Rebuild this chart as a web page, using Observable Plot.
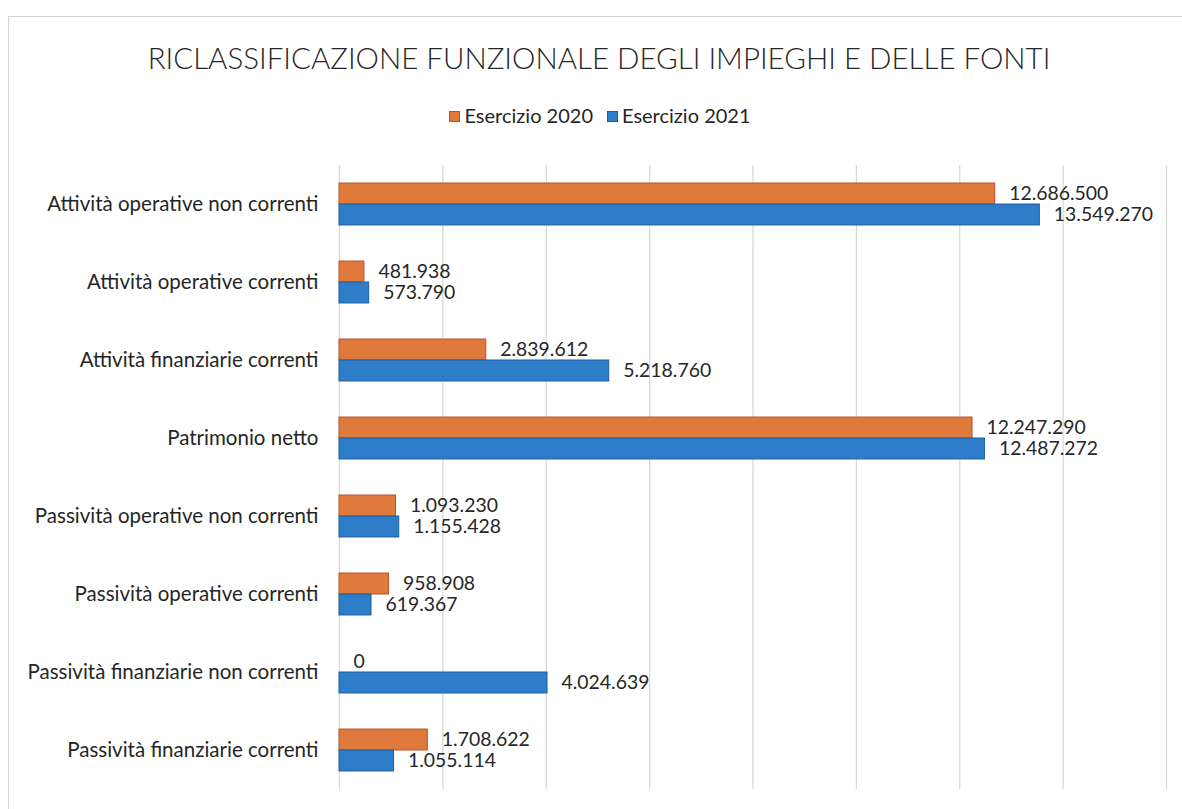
<!DOCTYPE html>
<html>
<head>
<meta charset="utf-8">
<script src="https://cdn.jsdelivr.net/npm/d3@7"></script>
<script src="https://cdn.jsdelivr.net/npm/@observablehq/plot@0.6"></script>
<style>
  html, body { margin: 0; padding: 0; background: #fff; overflow: hidden; width: 1182px; height: 809px; }
  body { position: relative; font-family: "Lato", "Open Sans", sans-serif; color: #262626; }
  #frame { position: absolute; left: 8px; top: 16px; width: 1200px; height: 820px; border: 1px solid #d4d4d4; box-sizing: border-box; }
  #title { position: absolute; left: 0; width: 1198px; top: 40px; text-align: center; font-size: 29.5px; font-weight: 300; color: #262626; white-space: nowrap; }
  #legend { position: absolute; left: 0; width: 1200px; top: 103px; text-align: center; font-size: 20px; color: #262626; white-space: nowrap; }
  .sw { display: inline-block; width: 11px; height: 11px; margin-right: 4px; vertical-align: 1px; box-sizing: border-box; }
  .item { margin: 0 7px; }
  #chart { position: absolute; left: 0; top: 140px; }
</style>
</head>
<body>
<div id="frame"></div>
<div id="title"></div>
<div id="legend"></div>
<div id="chart"></div>
<script>
const titleText = "RICLASSIFICAZIONE FUNZIONALE DEGLI IMPIEGHI E DELLE FONTI";
const categories = [
  "Attività operative non correnti",
  "Attività operative correnti",
  "Attività finanziarie correnti",
  "Patrimonio netto",
  "Passività operative non correnti",
  "Passività operative correnti",
  "Passività finanziarie non correnti",
  "Passività finanziarie correnti"
];
const seriesNames = ["Esercizio 2020", "Esercizio 2021"];
const values2020 = [12686500, 481938, 2839612, 12247290, 1093230, 958908, 0, 1708622];
const values2021 = [13549270, 573790, 5218760, 12487272, 1155428, 619367, 4024639, 1055114];
const xTicks = [0, 2000000, 4000000, 6000000, 8000000, 10000000, 12000000, 14000000, 16000000];
const fillColors = ["#E07A3C", "#2E7DC8"];
const strokeColors = ["#B8502E", "#1E5E9E"];

const locale = d3.formatLocale({decimal: ",", thousands: ".", grouping: [3], currency: ["€", ""]});
const fmt = locale.format(",d");

const data = [];
categories.forEach((c, i) => {
  data.push({category: c, series: seriesNames[0], value: values2020[i]});
  data.push({category: c, series: seriesNames[1], value: values2021[i]});
});

document.getElementById("title").textContent = titleText;
const legend = document.getElementById("legend");
seriesNames.forEach((s, i) => {
  const span = document.createElement("span");
  span.className = "item";
  span.innerHTML = `<span class="sw" style="background:${fillColors[i]};border:1px solid ${strokeColors[i]}"></span>${s}`;
  legend.appendChild(span);
});

const chart = Plot.plot({
  width: 1182,
  height: 669,
  marginLeft: 339,
  marginRight: 16,
  marginTop: 25,
  marginBottom: 20,
  style: {fontFamily: "Lato, 'Open Sans', sans-serif", fontSize: "18px", color: "#262626", background: "transparent"},
  x: {domain: [0, 16000000], axis: null},
  fy: {domain: categories, padding: 0, round: false, axis: null, label: null},
  y: {domain: seriesNames, paddingInner: 0, paddingOuter: 0.86, round: false, axis: null},
  color: {domain: seriesNames, range: fillColors},
  marks: [
    Plot.gridX(xTicks, {stroke: "#d6d6d6", strokeOpacity: 1, strokeWidth: 1.2}),
    Plot.axisFy({anchor: "left", tickSize: 0, tickPadding: 21, fontSize: 20.5, label: null, fill: "#262626"}),
    Plot.barX(data, {
      filter: d => d.value > 0,
      fy: "category", y: "series", x: "value",
      fill: "series",
      stroke: d => strokeColors[seriesNames.indexOf(d.series)],
      strokeWidth: 1
    }),
    Plot.text(data, {
      fy: "category", y: "series", x: "value",
      text: d => fmt(d.value),
      textAnchor: "start", dx: 14,
      fontSize: 19.4, fill: "#262626"
    })
  ]
});
document.getElementById("chart").appendChild(chart);
</script>
</body>
</html>
